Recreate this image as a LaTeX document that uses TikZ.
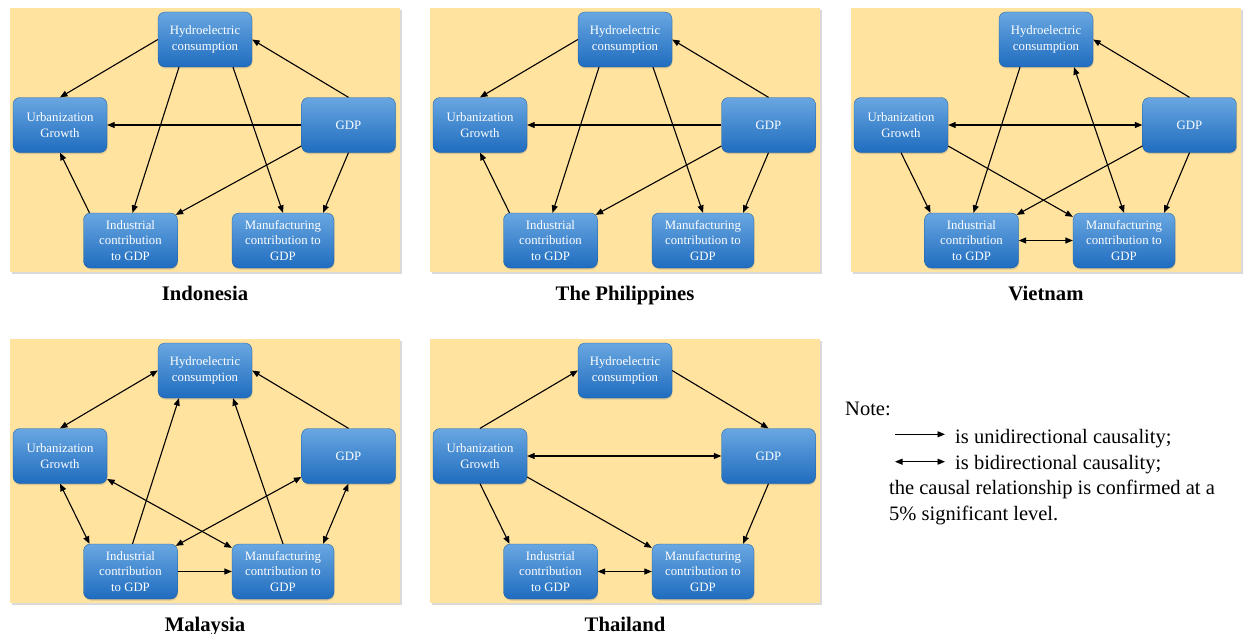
\documentclass[tikz,border=0pt]{standalone}
\usepackage{fontspec}
\setmainfont{Liberation Serif}
\usepackage{tikz}
\usetikzlibrary{
  arrows.meta,
  shadows
}
\definecolor{sand}{HTML}{FFE39E}
\definecolor{boxtop}{HTML}{69A7E1}
\definecolor{boxbot}{HTML}{1F6CBF}

% one country: background, five variables, title
\newcommand{\countrypanel}[4]{%
  \begin{scope}[shift={(#2,#3)}]
    \node[panel] (#1bg) at (205,140) {};
    \node[abox] (#1hy) at (205,39.5) {Hydroelectric\\consumption};
    \node[abox] (#1ur) at (60,125) {Urbanization\\Growth};
    \node[abox] (#1gdp) at (348.5,125) {GDP};
    \node[abox] (#1ind) at (130.5,240.5) {Industrial\\contribution\\to GDP};
    \node[abox, minimum width=102pt] (#1man) at (283,240.5) {Manufacturing\\contribution to\\GDP};
    \node[ctitle] (#1ti) at (205,300) {#4};
  \end{scope}}

\begin{document}
\begin{tikzpicture}[
  x=1pt, y=-1pt,
  panel/.style={fill=sand, minimum width=390pt, minimum height=264pt, inner sep=0pt,
                drop shadow={opacity=0.3, shadow xshift=2pt, shadow yshift=-2pt}},
  abox/.style={rounded corners=7pt, top color=boxtop, bottom color=boxbot,
               draw=boxbot!85!black, line width=0.3pt,
               minimum width=94pt, minimum height=55pt, inner sep=1pt,
               align=center, text=white, font=\fontsize{12.8}{15.5}\selectfont,
               drop shadow={opacity=0.3, shadow xshift=0.6pt, shadow yshift=-1.5pt}},
  ctitle/.style={anchor=base, font=\fontsize{20.7}{24}\selectfont\bfseries},
  uarr/.style={-{Triangle[length=7.5pt,width=6pt]}, line width=1.1pt},
  barr/.style={{Triangle[length=7.5pt,width=6pt]}-{Triangle[length=7.5pt,width=6pt]}, line width=1.1pt},
  note/.style={anchor=base west, inner sep=0pt, font=\fontsize{20.5}{24}\selectfont},
]
  \useasboundingbox (0,0) rectangle (1245,634);

  \countrypanel{I}{0}{0}{Indonesia}
  \countrypanel{P}{420}{0}{The Philippines}
  \countrypanel{V}{841}{0}{Vietnam}
  \countrypanel{M}{0}{331}{Malaysia}
  \countrypanel{T}{420}{331}{Thailand}

  % Indonesia
  \draw[uarr] (Ihy.west) -- (Iur.north);
  \draw[uarr] (Igdp.north) -- (Ihy.east);
  \draw[uarr] (Igdp.west) -- (Iur.east);
  \draw[uarr] ([xshift=-26pt]Ihy.south) -- ([xshift=2pt]Iind.north);
  \draw[uarr] ([xshift=28pt]Ihy.south) -- (Iman.north);
  \draw[uarr] ([yshift=-21pt]Igdp.west) -- ([xshift=-2pt,yshift=-2pt]Iind.north east);
  \draw[uarr] (Igdp.south) -- ([xshift=40pt]Iman.north);
  \draw[uarr] ([xshift=-41pt]Iind.north) -- (Iur.south);

  % The Philippines
  \draw[uarr] (Phy.west) -- (Pur.north);
  \draw[uarr] (Pgdp.north) -- (Phy.east);
  \draw[uarr] (Pgdp.west) -- (Pur.east);
  \draw[uarr] ([xshift=-26pt]Phy.south) -- ([xshift=2pt]Pind.north);
  \draw[uarr] ([xshift=28pt]Phy.south) -- (Pman.north);
  \draw[uarr] ([yshift=-21pt]Pgdp.west) -- ([xshift=-2pt,yshift=-2pt]Pind.north east);
  \draw[uarr] (Pgdp.south) -- ([xshift=40pt]Pman.north);
  \draw[uarr] ([xshift=-41pt]Pind.north) -- (Pur.south);

  % Vietnam
  \draw[uarr] (Vgdp.north) -- (Vhy.east);
  \draw[barr] (Vur.east) -- (Vgdp.west);
  \draw[uarr] ([xshift=-26pt]Vhy.south) -- ([xshift=2pt]Vind.north);
  \draw[barr] ([xshift=28pt]Vhy.south) -- (Vman.north);
  \draw[uarr] (Vur.south) -- ([xshift=-41pt]Vind.north);
  \draw[uarr] ([yshift=-21pt]Vur.east) -- ([yshift=-4pt]Vman.north west);
  \draw[uarr] ([yshift=-21pt]Vgdp.west) -- ([xshift=-2pt,yshift=-2pt]Vind.north east);
  \draw[uarr] (Vgdp.south) -- ([xshift=40pt]Vman.north);
  \draw[barr] (Vind.east) -- (Vman.west);

  % Malaysia
  \draw[barr] (Mhy.west) -- (Mur.north);
  \draw[uarr] (Mgdp.north) -- (Mhy.east);
  \draw[uarr] ([xshift=2pt]Mind.north) -- ([xshift=-26pt]Mhy.south);
  \draw[uarr] (Mman.north) -- ([xshift=28pt]Mhy.south);
  \draw[barr] (Mur.south) -- ([xshift=-41pt]Mind.north);
  \draw[barr] ([yshift=-23pt]Mur.east) -- ([yshift=-4pt]Mman.north west);
  \draw[barr] ([xshift=-2pt,yshift=-2pt]Mind.north east) -- ([yshift=-21pt]Mgdp.west);
  \draw[barr] (Mgdp.south) -- ([xshift=40pt]Mman.north);
  \draw[uarr] (Mind.east) -- (Mman.west);

  % Thailand
  \draw[uarr] (Tur.north) -- (Thy.west);
  \draw[uarr] (Thy.east) -- (Tgdp.north);
  \draw[barr] (Tur.east) -- (Tgdp.west);
  \draw[uarr] (Tur.south) -- ([xshift=-41pt]Tind.north);
  \draw[uarr] ([yshift=-21pt]Tur.east) -- ([yshift=-4pt]Tman.north west);
  \draw[uarr] (Tgdp.south) -- ([xshift=40pt]Tman.north);
  \draw[barr] (Tind.east) -- (Tman.west);

  % legend
  \node[note] (nt) at (845,415.7) {Note:};
  \coordinate (u1) at (895,434.3);
  \coordinate (u2) at (945,434.3);
  \draw[uarr, line width=0.9pt] (u1) -- (u2);
  \node[note] (nu) at (955,443.3) {is unidirectional causality;};
  \coordinate (b1) at (895,461.7);
  \coordinate (b2) at (945,461.7);
  \draw[barr, line width=0.9pt] (b1) -- (b2);
  \node[note] (nb) at (955,469) {is bidirectional causality;};
  \node[note] (nc) at (889,494.3) {the causal relationship is confirmed at a};
  \node[note] (ns) at (889,520) {5\% significant level.};
\end{tikzpicture}
\end{document}
